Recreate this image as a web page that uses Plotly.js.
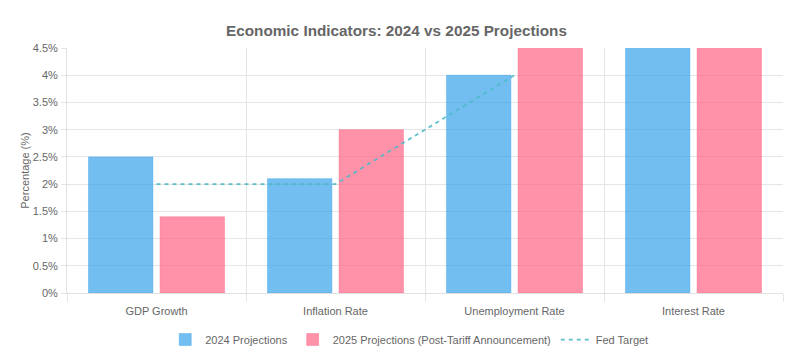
<!DOCTYPE html>
<html>
<head>
<meta charset="utf-8">
<script src="https://cdn.plot.ly/plotly-3.0.1.min.js"></script>
<style>html,body{margin:0;padding:0;background:#fff;}#chart{width:793px;height:364px;}</style>
</head>
<body>
<div id="chart"></div>
<script>
const categories = ["GDP Growth", "Inflation Rate", "Unemployment Rate", "Interest Rate"];
const projections2024 = [2.5, 2.1, 4.0, 5.3];
const projections2025 = [1.4, 3.0, 4.6, 5.0];
const fedTarget = [2.0, 2.0, 4.0, null];
const yTicks = [0, 0.5, 1, 1.5, 2, 2.5, 3, 3.5, 4, 4.5];
const yTickLabels = ["0%", "0.5%", "1%", "1.5%", "2%", "2.5%", "3%", "3.5%", "4%", "4.5%"];

const font = {family: "Liberation Sans, Arial, Helvetica, sans-serif", color: "#666"};

const traces = [
  {type: "bar", name: "2024 Projections", x: categories, y: projections2024,
   marker: {color: "rgba(54,162,235,0.7)", line: {color: "rgba(54,162,235,0.8)", width: 0.5}}},
  {type: "bar", name: "2025 Projections (Post-Tariff Announcement)", x: categories, y: projections2025,
   marker: {color: "rgba(255,99,132,0.7)", line: {color: "rgba(255,99,132,0.8)", width: 0.5}}},
  {type: "scatter", mode: "lines", name: "Fed Target", x: categories, y: fedTarget,
   connectgaps: false,
   line: {color: "rgba(75,185,200,0.9)", width: 1.8, dash: "4px,4px"}}
];

const layout = {
  width: 793, height: 364,
  margin: {l: 67, r: 10, t: 48, b: 69},
  paper_bgcolor: "#fff", plot_bgcolor: "#fff",
  font: Object.assign({size: 11}, font),
  title: {text: "<b>Economic Indicators: 2024 vs 2025 Projections</b>", x: 0.5, xanchor: "center",
          y: 1 - 31/364, yanchor: "middle", yref: "container",
          font: Object.assign({}, font, {size: 15.3})},
  barmode: "group", bargap: 0.2, bargroupgap: 0.1,
  showlegend: true,
  legend: {orientation: "h", x: 0.478, xanchor: "center", y: -0.19, yanchor: "middle",
           font: Object.assign({}, font, {size: 11}), traceorder: "normal", itemwidth: 30},
  xaxis: {type: "category", tickson: "boundaries", showgrid: true, gridcolor: "#e5e5e5",
          ticks: "outside", ticklen: 8, tickcolor: "#e5e5e5", ticklabelstandoff: 8,
          showline: true, linecolor: "#e0e0e0", zeroline: false,
          tickfont: Object.assign({}, font, {size: 11})},
  yaxis: {range: [0, 4.5], tickmode: "array", tickvals: yTicks, ticktext: yTickLabels,
          showgrid: true, gridcolor: "#e5e5e5",
          ticks: "outside", ticklen: 5, tickcolor: "#e5e5e5", ticklabelstandoff: 1,
          showline: true, linecolor: "#e0e0e0", zeroline: false,
          title: {text: "Percentage (%)", font: Object.assign({}, font, {size: 11}), standoff: 0},
          tickfont: Object.assign({}, font, {size: 11})}
};

Plotly.newPlot("chart", traces, layout, {displayModeBar: false, staticPlot: true});
</script>
</body>
</html>
